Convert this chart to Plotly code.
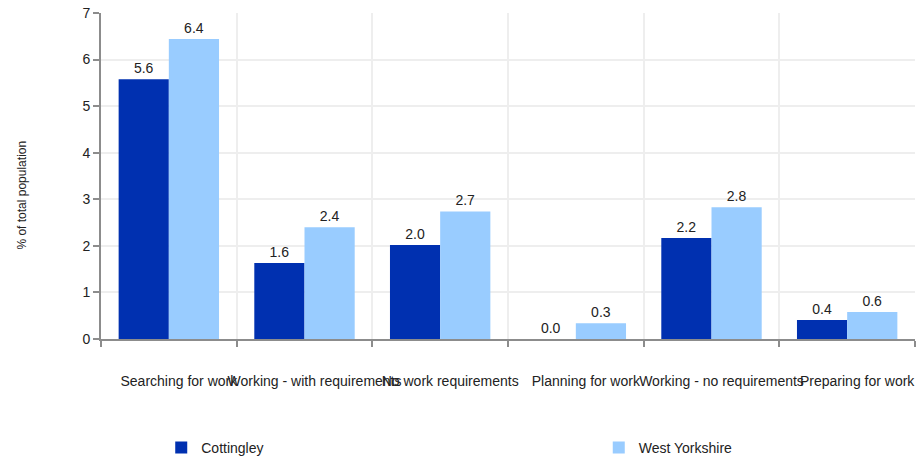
import plotly.graph_objects as go

categories = [
    "Searching for work",
    "Working - with requirements",
    "No work requirements",
    "Planning for work",
    "Working - no requirements",
    "Preparing for work",
]
cottingley = [5.58, 1.63, 2.02, 0.0, 2.17, 0.41]
west_yorkshire = [6.44, 2.40, 2.74, 0.34, 2.83, 0.58]
y_ticks = [0, 1, 2, 3, 4, 5, 6, 7]

FONT = "Liberation Sans, Arial, sans-serif"
TEXT = "#222222"
AXIS = "#8c8c8c"
GRID = "#eeeeee"

fig = go.Figure()
fig.add_trace(
    go.Bar(
        x=categories,
        y=cottingley,
        name="Cottingley",
        legend="legend",
        showlegend=True,
        marker={"color": "#0030b0", "line": {"width": 0}},
        texttemplate="%{y:.1f}",
        textposition="outside",
        textfont={"size": 14, "color": TEXT},
        cliponaxis=False,
    )
)
fig.add_trace(
    go.Bar(
        x=categories,
        y=west_yorkshire,
        name="West Yorkshire",
        legend="legend2",
        showlegend=True,
        marker={"color": "#99ccff", "line": {"width": 0}},
        texttemplate="%{y:.1f}",
        textposition="outside",
        textfont={"size": 14, "color": TEXT},
        cliponaxis=False,
    )
)

legend_style = dict(
    orientation="h",
    xanchor="left",
    y=-0.334,
    yanchor="middle",
    font={"size": 14, "color": TEXT},
    bgcolor="rgba(0,0,0,0)",
)

fig.update_layout(
    width=923,
    height=457,
    showlegend=True,
    barmode="group",
    bargap=0.26,
    bargroupgap=0,
    paper_bgcolor="#ffffff",
    plot_bgcolor="#ffffff",
    font={"family": FONT, "size": 14, "color": TEXT},
    margin={"l": 101, "r": 8, "t": 13, "b": 118, "autoexpand": False},
    legend=dict(x=0.074, **legend_style),
    legend2=dict(x=0.6115, **legend_style),
    annotations=[
        {
            "text": "% of total population",
            "textangle": -90,
            "xref": "paper",
            "yref": "paper",
            "x": -0.097,
            "y": 0.44,
            "xanchor": "center",
            "yanchor": "middle",
            "showarrow": False,
            "font": {"size": 12, "color": TEXT},
        }
    ],
)
fig.update_xaxes(
    type="category",
    range=[-0.5, 5.5],
    tickson="boundaries",
    tickangle=0,
    ticks="outside",
    ticklen=6,
    tickwidth=2,
    tickcolor=AXIS,
    showline=True,
    linecolor=AXIS,
    linewidth=2,
    showgrid=True,
    gridcolor=GRID,
    gridwidth=2,
    ticklabelstandoff=28,
    ticklabelshift=10,
    tickfont={"size": 14, "color": TEXT},
)
fig.update_yaxes(
    range=[0, 7],
    tickvals=y_ticks,
    ticks="outside",
    ticklen=6,
    tickwidth=2,
    tickcolor=AXIS,
    showline=True,
    linecolor=AXIS,
    linewidth=2,
    showgrid=True,
    gridcolor=GRID,
    gridwidth=2,
    zeroline=False,
    tickfont={"size": 14, "color": TEXT},
)

fig.write_html(
    "out.html",
    config={"displayModeBar": False},
    post_script="document.body.style.margin = '0';",
)
